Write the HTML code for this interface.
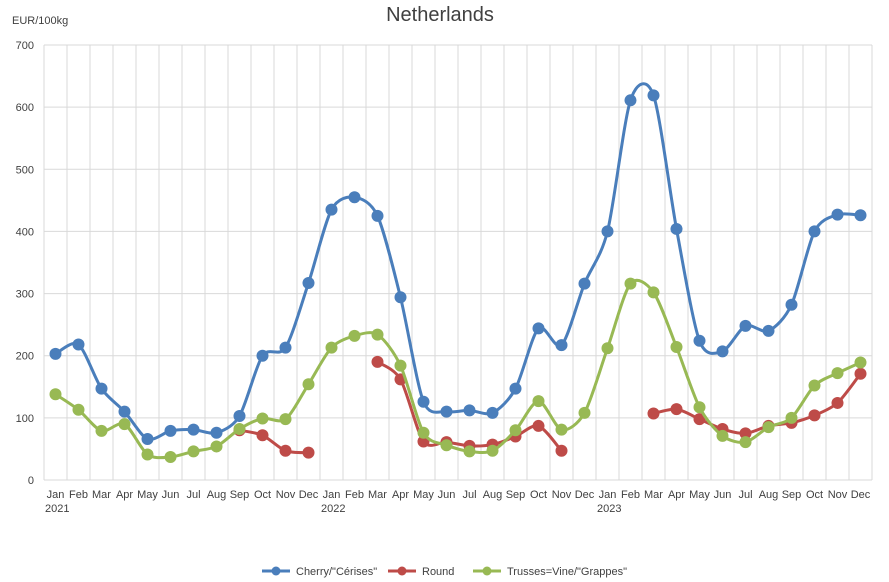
<!DOCTYPE html>
<html><head><meta charset="utf-8">
<style>
body{margin:0;background:#fff;}
svg{display:block;font-family:"Liberation Sans",sans-serif;}
</style></head>
<body>
<svg id="chart" width="889" height="582" viewBox="0 0 889 582">
<text x="440" y="21" text-anchor="middle" font-size="20" fill="#404040">Netherlands</text>
<text x="12" y="24" font-size="11" fill="#404040">EUR/100kg</text>
<g id="grid"></g><g id="axes"></g><g id="series"></g>
<g id="legend"></g>
</svg>
<script>
const months=["Jan","Feb","Mar","Apr","May","Jun","Jul","Aug","Sep","Oct","Nov","Dec"];
const years=["2021","2022","2023"];
const yTicks=[0,100,200,300,400,500,600,700];
const cherry=[203,218,147,110,66,79,81,76,103,200,213,317,435,455,425,294,126,110,112,108,147,244,217,316,400,611,619,404,224,207,248,240,282,400,427,426];
const round=[null,null,null,null,null,null,null,null,80,72,47,44,null,null,190,162,62,61,55,57,70,87,47,null,null,null,107,114,98,82,75,87,92,104,124,171];
const trusses=[138,113,79,90,41,37,46,54,82,99,98,154,213,232,234,184,76,56,46,47,80,127,81,108,212,316,302,214,117,71,61,85,100,152,172,189];
const seriesNames=['Cherry/"Cérises"',"Round",'Trusses=Vine/"Grappes"'];
const colors=["#4a7ebb","#be4b48","#98b954"];

const NS="http://www.w3.org/2000/svg";
const L=44,R=872,T=45,B=480,N=36;
const bw=(R-L)/N;
const x=i=>L+bw*(i+0.5);
const y=v=>B-(v/700)*(B-T);
function mk(tag,attrs,parent){const e=document.createElementNS(NS,tag);for(const k in attrs)e.setAttribute(k,attrs[k]);parent.appendChild(e);return e;}
const grid=document.getElementById("grid"),axes=document.getElementById("axes"),ser=document.getElementById("series"),leg=document.getElementById("legend");
yTicks.forEach(v=>{
  const g=mk("line",{x1:L,x2:R,y1:y(v),y2:y(v),stroke:"#d9d9d9","stroke-width":1},grid);
  
  
  const t=mk("text",{x:34,y:y(v)+4,"text-anchor":"end","font-size":11,fill:"#404040"},axes);
  t.textContent=v;
  
  
});
for(let i=0;i<=N;i++){
  const g=mk("line",{x1:L+bw*i,x2:L+bw*i,y1:T,y2:B,stroke:"#d9d9d9","stroke-width":1},grid);
  
  
}
for(let i=0;i<N;i++){
  const t=mk("text",{x:x(i),y:498,"text-anchor":"middle","font-size":11,fill:"#404040"},axes);
  t.textContent=months[i%12];
  
  
  if(i%12===0){
    const yt=mk("text",{x:L+bw*i+1,y:512,"font-size":11,fill:"#404040"},axes);
    yt.textContent=years[i/12];
    
    
  }
}
function smooth(pts){
  if(pts.length===1)return "";
  let d=`M${pts[0][0]},${pts[0][1]}`;
  const t=0.14;
  for(let i=0;i<pts.length-1;i++){
    const p0=pts[Math.max(i-1,0)],p1=pts[i],p2=pts[i+1],p3=pts[Math.min(i+2,pts.length-1)];
    const c1=[p1[0]+(p2[0]-p0[0])*t,p1[1]+(p2[1]-p0[1])*t];
    const c2=[p2[0]-(p3[0]-p1[0])*t,p2[1]-(p3[1]-p1[1])*t];
    d+=` C${c1[0]},${c1[1]} ${c2[0]},${c2[1]} ${p2[0]},${p2[1]}`;
  }
  return d;
}
[cherry,round,trusses].forEach((data,si)=>{
  const g=mk("g",{},ser);
  
  
  let seg=[];
  const segs=[];
  data.forEach((v,i)=>{if(v===null){if(seg.length)segs.push(seg);seg=[];}else seg.push([x(i),y(v)]);});
  if(seg.length)segs.push(seg);
  segs.forEach(s=>{
    const p=mk("path",{d:smooth(s),fill:"none",stroke:colors[si],"stroke-width":3,"stroke-linejoin":"round"},g);
    
    
  });
  data.forEach((v,i)=>{
    if(v===null)return;
    const c=mk("circle",{cx:x(i),cy:y(v),r:6,fill:colors[si]},g);
    
    
  });
});
const lx=[262,388,473];
seriesNames.forEach((n,si)=>{
  const g=mk("g",{},leg);
  
  
  mk("line",{x1:lx[si],x2:lx[si]+28,y1:571,y2:571,stroke:colors[si],"stroke-width":3},g);
  mk("circle",{cx:lx[si]+14,cy:571,r:4.5,fill:colors[si]},g);
  const t=mk("text",{x:lx[si]+34,y:575,"font-size":11,fill:"#404040"},g);
  t.textContent=n;
});
</script>
</body></html>
